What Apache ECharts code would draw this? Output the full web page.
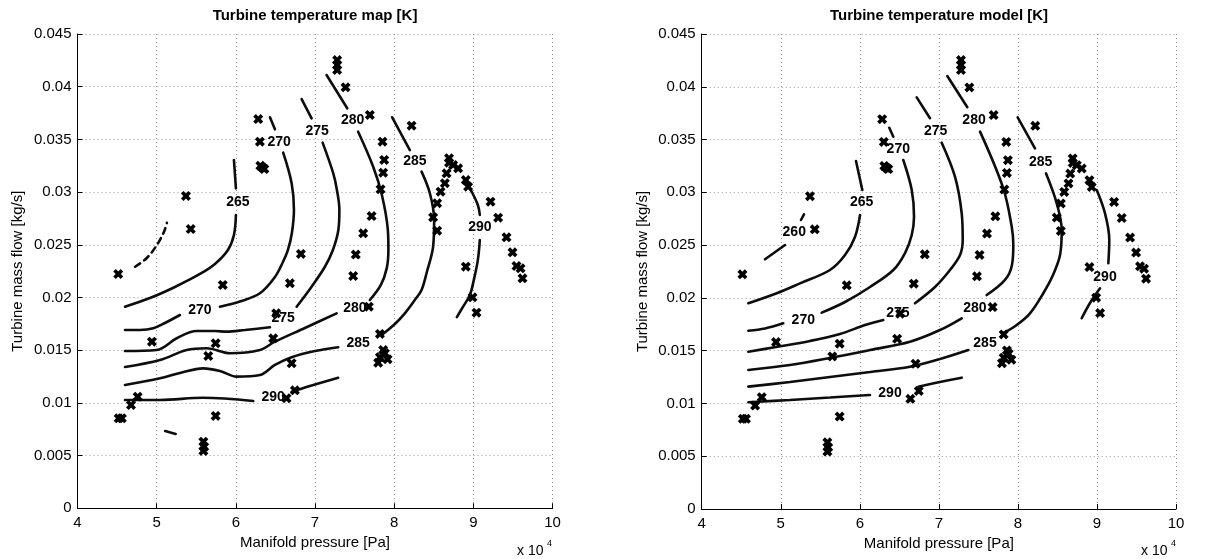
<!DOCTYPE html>
<html>
<head>
<meta charset="utf-8">
<script src="https://cdn.jsdelivr.net/npm/echarts@6/dist/echarts.min.js"></script>
<style>
  html, body { margin: 0; padding: 0; background: #fff; }
  #chart { width: 1205px; height: 559px; }
</style>
</head>
<body>
<div id="chart"></div>
<script>
// Manifold pressure in units of 1e4 Pa, turbine mass flow in kg/s
const xTicks = [4, 5, 6, 7, 8, 9, 10];
const yTicks = [0, 0.005, 0.01, 0.015, 0.02, 0.025, 0.03, 0.035, 0.04, 0.045];

// Measured operating points (same set on both panels)
const samplePoints = [
  [4.515, 0.02223], [4.52, 0.00854], [4.56, 0.00854], [4.676, 0.0098], [4.76, 0.01059],
  [4.94, 0.01581], [5.37, 0.02963], [5.43, 0.0265], [5.59, 0.00632], [5.60, 0.00584],
  [5.59, 0.00544], [5.652, 0.01445], [5.745, 0.01566], [5.745, 0.00876], [5.835, 0.02119],
  [6.283, 0.03693], [6.304, 0.03478], [6.31, 0.0325], [6.34, 0.0323], [6.36, 0.0322],
  [6.472, 0.01613], [6.51, 0.0185], [6.64, 0.01044], [6.683, 0.02135], [6.705, 0.01376],
  [6.746, 0.01119], [6.822, 0.02413], [7.28, 0.04253], [7.28, 0.04206], [7.28, 0.04159],
  [7.386, 0.03994], [7.482, 0.02204], [7.515, 0.02407], [7.609, 0.02609], [7.68, 0.01913],
  [7.693, 0.03732], [7.715, 0.02773], [7.82, 0.01654], [7.798, 0.01381], [7.82, 0.01433],
  [7.861, 0.01502], [7.883, 0.01471], [7.917, 0.01414], [7.828, 0.03027], [7.861, 0.03184],
  [7.874, 0.03305], [7.853, 0.03478], [8.22, 0.0363], [8.492, 0.02761], [8.543, 0.02634],
  [8.543, 0.02894], [8.586, 0.03004], [8.64, 0.03084], [8.662, 0.03178], [8.693, 0.03321],
  [8.693, 0.03279], [8.745, 0.03257], [8.808, 0.03226], [8.905, 0.03115], [8.934, 0.03051],
  [9.217, 0.02909], [9.313, 0.02757], [9.419, 0.02571], [9.495, 0.02429], [9.545, 0.02299],
  [9.596, 0.02277], [9.621, 0.02182], [8.905, 0.02292], [8.99, 0.02002], [9.04, 0.01856]
];

// Temperature map contours: each level is a list of segments (broken at labels)
const map260 = [
  [[4.728, 0.02292], [4.876, 0.02375], [5.003, 0.02498], [5.091, 0.0262], [5.129, 0.02708]]
];
const map265 = [
  [[4.60, 0.01913], [4.915, 0.01995], [5.231, 0.0210], [5.547, 0.02223], [5.736, 0.02318],
   [5.900, 0.02451], [5.976, 0.02593], [6.001, 0.02783]],
  [[6.001, 0.03036], [5.976, 0.03305]]
];
const map270 = [
  [[4.600, 0.01692], [4.789, 0.01692], [4.957, 0.01708], [5.104, 0.01758], [5.294, 0.01834]],
  [[5.799, 0.01913], [6.051, 0.01962], [6.304, 0.02040], [6.494, 0.02195], [6.595, 0.02337],
   [6.658, 0.02451], [6.708, 0.02612], [6.734, 0.02830], [6.705, 0.03084], [6.598, 0.03374]],
  [[6.494, 0.03596], [6.431, 0.03710]]
];
const map275 = [
  [[4.600, 0.01492], [5.000, 0.01502], [5.253, 0.01613], [5.505, 0.01682], [5.736, 0.01682],
   [5.884, 0.01676], [6.115, 0.01692], [6.431, 0.01717]],
  [[6.768, 0.01913], [6.957, 0.02103], [7.125, 0.02292], [7.226, 0.02451], [7.295, 0.0264],
   [7.308, 0.0283], [7.277, 0.0302], [7.230, 0.03179], [7.096, 0.03469]],
  [[6.957, 0.0370], [6.831, 0.03883]]
];
const map280 = [
  [[4.600, 0.01341], [5.042, 0.01407], [5.379, 0.01502], [5.631, 0.01518], [5.926, 0.01471],
   [6.304, 0.01502], [6.494, 0.01581], [6.872, 0.01711], [7.273, 0.0185]],
  [[7.693, 0.01976], [7.832, 0.02119], [7.907, 0.02281], [7.927, 0.02451], [7.920, 0.02641],
   [7.845, 0.02973], [7.735, 0.03241], [7.545, 0.03573]],
  [[7.407, 0.03795], [7.146, 0.04111]]
];
const map285 = [
  [[4.600, 0.0117], [5.042, 0.01233], [5.294, 0.01284], [5.588, 0.01328], [5.799, 0.01303],
   [6.010, 0.01249], [6.304, 0.01265], [6.494, 0.0136], [6.705, 0.01433], [7.0, 0.01492],
   [7.293, 0.01528]],
  [[7.841, 0.01644], [8.009, 0.01749], [8.135, 0.0185], [8.261, 0.01976], [8.346, 0.02071],
   [8.413, 0.02242], [8.492, 0.02482], [8.505, 0.02735], [8.451, 0.02989], [8.346, 0.03194]],
  [[8.198, 0.03399], [7.975, 0.0371]]
];
const map290 = [
  [[4.600, 0.01028], [5.042, 0.01028], [5.588, 0.01049], [6.220, 0.01018]],
  [[6.705, 0.01106], [6.936, 0.0116], [7.293, 0.01239]],
  [[8.968, 0.0302], [9.057, 0.02878], [9.082, 0.02783]],
  [[9.082, 0.02545], [9.057, 0.02355], [9.006, 0.02166], [8.956, 0.02023], [8.867, 0.01909],
   [8.792, 0.01814]]
];
const map295 = [
  [[5.107, 0.00733], [5.24, 0.00705]]
];
const mapLabels = [
  [6.027, 0.0290, 265], [5.547, 0.01881, 270], [6.548, 0.03478, 270], [6.598, 0.01808, 275],
  [7.028, 0.0358, 275], [7.504, 0.01898, 280], [7.475, 0.03684, 280], [7.545, 0.01566, 285],
  [8.261, 0.03289, 285], [6.472, 0.01059, 290], [9.082, 0.02672, 290]
];

// Temperature model contours
const model260 = [
  [[4.801, 0.02366], [5.054, 0.02501]],
  [[5.256, 0.02738], [5.294, 0.02792]]
];
const model265 = [
  [[4.590, 0.01949], [4.949, 0.02044], [5.244, 0.02138], [5.623, 0.02264], [5.813, 0.02406],
   [5.939, 0.02577], [6.003, 0.02785]],
  [[6.032, 0.03022], [5.952, 0.03297]]
];
const model270 = [
  [[4.590, 0.01689], [4.801, 0.0171], [5.032, 0.01759]],
  [[5.518, 0.0186], [5.813, 0.01961], [6.129, 0.02103], [6.424, 0.02264], [6.572, 0.02425],
   [6.657, 0.02596], [6.686, 0.02769], [6.657, 0.03022], [6.550, 0.03306]],
  [[6.424, 0.03527], [6.373, 0.03612]]
];
const model275 = [
  [[4.590, 0.0149], [4.940, 0.01535], [5.370, 0.01592], [5.749, 0.01658], [6.066, 0.01743],
   [6.297, 0.01791]],
  [[6.698, 0.01949], [6.951, 0.02103], [7.141, 0.02264], [7.268, 0.02406], [7.302, 0.02549],
   [7.289, 0.02801], [7.204, 0.03148], [7.036, 0.0347]],
  [[6.888, 0.03702], [6.720, 0.039]]
];
const model280 = [
  [[4.590, 0.01317], [5.117, 0.01364], [5.623, 0.01431], [6.129, 0.01506], [6.635, 0.01585],
   [7.014, 0.01696], [7.289, 0.01807]],
  [[7.605, 0.02027], [7.837, 0.0217], [7.925, 0.02312], [7.942, 0.02501], [7.922, 0.02674],
   [7.815, 0.03038], [7.521, 0.03575]],
  [[7.360, 0.03806], [7.107, 0.04102]]
];
const model285 = [
  [[4.590, 0.01159], [5.117, 0.01203], [5.623, 0.01251], [6.129, 0.01298], [6.635, 0.01348],
   [7.014, 0.01421], [7.373, 0.01506]],
  [[7.815, 0.01665], [7.985, 0.01743], [8.153, 0.01854], [8.321, 0.02044], [8.444, 0.02217],
   [8.533, 0.02406], [8.554, 0.02643], [8.491, 0.02896], [8.355, 0.0318]],
  [[8.216, 0.03417], [7.997, 0.03711]]
];
const model290 = [
  [[4.590, 0.01011], [5.117, 0.01033], [5.623, 0.01056], [6.129, 0.0108]],
  [[6.740, 0.01159], [7.014, 0.01203], [7.289, 0.01244]],
  [[8.997, 0.03022], [9.102, 0.02801], [9.156, 0.02549], [9.144, 0.02328]],
  [[9.039, 0.02091], [8.912, 0.01952], [8.807, 0.01807]]
];
const modelLabels = [
  [5.171, 0.02627, 260], [6.024, 0.02906, 265], [5.285, 0.01791, 270], [6.487, 0.03411, 270],
  [6.483, 0.01854, 275], [6.960, 0.03584, 275], [7.457, 0.01901, 280], [7.445, 0.03685, 280],
  [7.584, 0.0157, 285], [8.288, 0.0329, 285], [6.382, 0.01096, 290], [9.102, 0.02201, 290]
];

const FONT = '"Liberation Sans", Arial, Helvetica, sans-serif';
const INK = '#000';
// bold "x" marker as a filled outline
const X_MARK = 'path://M0,2.6 L2.6,0 L5,2.4 L7.4,0 L10,2.6 L7.6,5 L10,7.4 L7.4,10 L5,7.6 L2.6,10 L0,7.4 L2.4,5 Z';

const chart = echarts.init(document.getElementById('chart'), null, { renderer: 'canvas' });

const grids = [
  { left: 77.5, top: 34, width: 475, height: 474.3 },
  { left: 701.7, top: 34, width: 474.3, height: 475 }
];

function xAxisFor(i) {
  return {
    gridIndex: i, type: 'value',
    min: xTicks[0], max: xTicks[xTicks.length - 1], interval: xTicks[1] - xTicks[0],
    axisLine: { show: true, onZero: false, lineStyle: { color: '#000', width: 1 } },
    axisTick: { show: true, inside: true, length: 5, lineStyle: { color: '#000' } },
    axisLabel: { color: '#000', fontSize: 15, fontFamily: FONT, margin: 7 },
    splitLine: { show: true, lineStyle: { color: '#9a9a9a', type: [1, 3], width: 1 } },
    name: 'Manifold pressure [Pa]', nameLocation: 'middle', nameGap: 26,
    nameTextStyle: { color: '#000', fontSize: 15, fontFamily: FONT }
  };
}
function yAxisFor(i) {
  return {
    gridIndex: i, type: 'value',
    min: yTicks[0], max: yTicks[yTicks.length - 1], interval: yTicks[1] - yTicks[0],
    axisLine: { show: true, onZero: false, lineStyle: { color: '#000', width: 1 } },
    axisTick: { show: true, inside: true, length: 5, lineStyle: { color: '#000' } },
    axisLabel: { color: '#000', fontSize: 15, fontFamily: FONT, margin: 6,
                 formatter: v => String(parseFloat(v.toFixed(4))) },
    splitLine: { show: true, lineStyle: { color: '#9a9a9a', type: [1, 3], width: 1 } },
    name: 'Turbine mass flow [kg/s]', nameLocation: 'middle', nameGap: i === 0 ? 52 : 51,
    nameTextStyle: { color: '#000', fontSize: 15, fontFamily: FONT }
  };
}

const series = [];
function addContours(i, levels, dashed) {
  levels.forEach(level => level.forEach(seg => {
    series.push({
      type: 'line', xAxisIndex: i, yAxisIndex: i, data: seg,
      showSymbol: false, symbol: 'none', smooth: 0.35, silent: true, z: 2,
      lineStyle: { color: '#0d0d0d', width: 2.6, type: dashed ? [6, 5] : 'solid', cap: 'round' }
    });
  }));
}
function addLabels(i, labels) {
  series.push({
    type: 'scatter', xAxisIndex: i, yAxisIndex: i, data: labels,
    symbol: 'circle', symbolSize: 2, itemStyle: { color: '#fff', opacity: 0 }, silent: true, z: 3,
    label: { show: true, position: 'inside', opacity: 1, formatter: p => String(p.value[2]),
             color: INK, textBorderWidth: 0, textBorderColor: 'transparent',
             fontSize: 14, fontWeight: 'bold', fontFamily: FONT }
  });
}
function addPoints(i) {
  series.push({
    type: 'scatter', xAxisIndex: i, yAxisIndex: i, data: samplePoints,
    symbol: X_MARK, symbolSize: 10, itemStyle: { color: INK, opacity: 1 }, silent: true, z: 5
  });
}

addContours(0, [map265, map270, map275, map280, map285, map290, map295], false);
addContours(0, [map260], true);
addLabels(0, mapLabels);
addPoints(0);

addContours(1, [model260, model265, model270, model275, model280, model285, model290], false);
addLabels(1, modelLabels);
addPoints(1);

function titleText(cx, text) {
  return { type: 'text', x: cx, y: 8, style: { text, fill: '#000', font: 'bold 15px ' + FONT, textAlign: 'center' } };
}
function scaleNote(x) {
  return [
    { type: 'text', x: x, y: 544, style: { text: 'x 10', fill: '#000', font: '14px ' + FONT } },
    { type: 'text', x: x + 30, y: 539, style: { text: '4', fill: '#000', font: '9px ' + FONT } }
  ];
}

chart.setOption({
  animation: false,
  backgroundColor: '#fff',
  grid: grids,
  xAxis: [xAxisFor(0), xAxisFor(1)],
  yAxis: [yAxisFor(0), yAxisFor(1)],
  graphic: [
    titleText(315, 'Turbine temperature map [K]'),
    titleText(939, 'Turbine temperature model [K]'),
    ...scaleNote(517),
    ...scaleNote(1141)
  ],
  series
});
</script>
</body>
</html>
